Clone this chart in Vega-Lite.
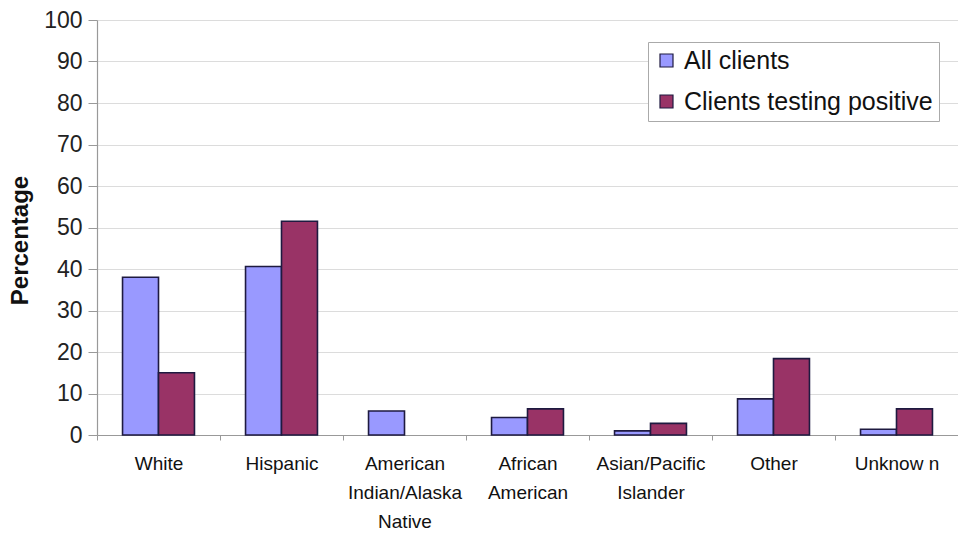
{
  "$schema": "https://vega.github.io/schema/vega-lite/v6.json",
  "width": 861,
  "height": 415,
  "autosize": {"type": "none"},
  "padding": {"left": 97, "top": 20, "right": 0, "bottom": 103},
  "background": "white",
  "config": {
    "font": "Liberation Sans",
    "view": {"stroke": null}
  },
  "data": {
    "values": [
      {"group": "White", "series": "All clients", "pct": 38},
      {"group": "White", "series": "Clients testing positive", "pct": 15},
      {"group": "Hispanic", "series": "All clients", "pct": 40.6},
      {"group": "Hispanic", "series": "Clients testing positive", "pct": 51.5},
      {"group": "American Indian/Alaska Native", "series": "All clients", "pct": 5.8},
      {"group": "American Indian/Alaska Native", "series": "Clients testing positive", "pct": 0},
      {"group": "African American", "series": "All clients", "pct": 4.2},
      {"group": "African American", "series": "Clients testing positive", "pct": 6.3},
      {"group": "Asian/Pacific Islander", "series": "All clients", "pct": 1.0},
      {"group": "Asian/Pacific Islander", "series": "Clients testing positive", "pct": 2.8},
      {"group": "Other", "series": "All clients", "pct": 8.7},
      {"group": "Other", "series": "Clients testing positive", "pct": 18.4},
      {"group": "Unknow n", "series": "All clients", "pct": 1.4},
      {"group": "Unknow n", "series": "Clients testing positive", "pct": 6.3}
    ]
  },
  "mark": {"type": "bar", "stroke": "#1e1a40", "strokeWidth": 1.6},
  "encoding": {
    "x": {
      "field": "group",
      "type": "nominal",
      "sort": null,
      "scale": {"paddingInner": 0, "paddingOuter": 0},
      "axis": {
        "title": null,
        "labelAngle": 0,
        "labelFontSize": 19,
        "labelColor": "#111",
        "labelLineHeight": 29,
        "labelPadding": 14,
        "labelExpr": "datum.value == 'American Indian/Alaska Native' ? ['American', 'Indian/Alaska', 'Native'] : datum.value == 'African American' ? ['African', 'American'] : datum.value == 'Asian/Pacific Islander' ? ['Asian/Pacific', 'Islander'] : datum.value",
        "bandPosition": 0,
        "tickBand": "extent",
        "ticks": true,
        "tickSize": 5,
        "tickColor": "#999",
        "domainColor": "#999",
        "domainWidth": 1.2,
        "grid": false
      }
    },
    "xOffset": {
      "field": "series",
      "type": "nominal",
      "scale": {"paddingInner": 0, "paddingOuter": 0.71}
    },
    "y": {
      "field": "pct",
      "type": "quantitative",
      "scale": {"domain": [0, 100], "nice": false},
      "axis": {
        "title": "Percentage",
        "titleFontSize": 24,
        "titleFontWeight": "bold",
        "titleColor": "#111",
        "titlePadding": 11,
        "titleY": 220,
        "values": [0, 10, 20, 30, 40, 50, 60, 70, 80, 90, 100],
        "labelFontSize": 23,
        "labelColor": "#222",
        "labelPadding": 6,
        "tickSize": 9,
        "tickColor": "#999",
        "domainColor": "#999",
        "domainWidth": 1.2,
        "gridColor": "#dcdcdc",
        "gridWidth": 1.2
      }
    },
    "strokeOpacity": {
      "condition": {"test": "datum.pct > 0", "value": 1},
      "value": 0
    },
    "color": {
      "field": "series",
      "type": "nominal",
      "scale": {"domain": ["All clients", "Clients testing positive"], "range": ["#9999ff", "#993366"]},
      "legend": {
        "title": null,
        "orient": "none",
        "legendX": 551,
        "legendY": 22,
        "direction": "vertical",
        "symbolType": "square",
        "symbolSize": 169,
        "symbolStrokeColor": "#1e1a40",
        "symbolStrokeWidth": 1.2,
        "labelFontSize": 25,
        "labelLimit": 400,
        "labelColor": "#111",
        "labelOffset": 5,
        "rowPadding": 15,
        "padding": 6,
        "strokeColor": "#aaa",
        "fillColor": "white"
      }
    }
  }
}
